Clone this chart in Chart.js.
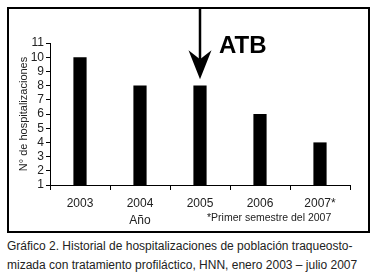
<!DOCTYPE html>
<html>
<head>
<meta charset="utf-8">
<script src="https://cdn.jsdelivr.net/npm/chart.js@4.4.0/dist/chart.umd.min.js"></script>
<style>
  body { margin: 0; background: #fff; font-family: "Liberation Sans", Arial, sans-serif; }
  #box { position: absolute; left: 7px; top: 7px; width: 359px; height: 222px; border: 2px solid #000; }
  #caption { position: absolute; left: 7px; top: 237px; width: 365px; font-size: 12px; line-height: 19px; color: #222; }
</style>
</head>
<body>
<div id="box"><canvas id="chart" width="359" height="222"></canvas></div>
<div id="caption">Gráfico 2. Historial de hospitalizaciones de población traqueosto-<br>mizada con tratamiento profiláctico, HNN, enero 2003 – julio 2007</div>
<script>
    // Data
    const years = ['2003', '2004', '2005', '2006', '2007*'];
    const hospitalizations = [10, 8, 8, 6, 4];
    const yTicks = [1, 2, 3, 4, 5, 6, 7, 8, 9, 10, 11];

    // Arrow over 2005 ("ATB" = start of antibiotic treatment)
    const arrowIndex = 2;
    const arrowTipValue = 8.45;

    const font = '"Liberation Sans", Arial, sans-serif';

    const extras = {
        id: 'extras',
        afterDraw(chart) {
            const ctx = chart.ctx;
            const x = chart.scales.x;
            const y = chart.scales.y;
            const ax = x.getPixelForValue(arrowIndex);
            const tip = y.getPixelForValue(arrowTipValue);

            ctx.save();
            // arrow line + head
            ctx.strokeStyle = '#000';
            ctx.lineWidth = 2.5;
            ctx.beginPath();
            ctx.moveTo(ax, 0);
            ctx.lineTo(ax, tip - 20);
            ctx.stroke();
            ctx.fillStyle = '#000';
            ctx.beginPath();
            ctx.moveTo(ax - 11.5, tip - 29);
            ctx.lineTo(ax, tip - 20);
            ctx.lineTo(ax + 11.5, tip - 29);
            ctx.lineTo(ax, tip);
            ctx.closePath();
            ctx.fill();

            // ATB label
            ctx.font = 'bold 24px ' + font;
            ctx.textBaseline = 'alphabetic';
            ctx.textAlign = 'left';
            ctx.fillText('ATB', ax + 19, 44);

            // x title and footnote
            ctx.fillStyle = '#222';
            ctx.font = '12px ' + font;
            ctx.textAlign = 'center';
            ctx.fillText('Año', 131, 215);
            ctx.font = '10.5px ' + font;
            ctx.textAlign = 'left';
            ctx.fillText('*Primer semestre del 2007', 198, 212);
            ctx.restore();
        }
    };

    new Chart(document.getElementById('chart'), {
        type: 'bar',
        data: {
            labels: years,
            datasets: [{
                data: hospitalizations,
                backgroundColor: '#000',
                barPercentage: 0.22,
                categoryPercentage: 1
            }]
        },
        options: {
            responsive: false,
            animation: false,
            layout: { padding: { top: 34, right: 18, left: 8, bottom: 0 } },
            plugins: { legend: { display: false }, tooltip: { enabled: false } },
            scales: {
                y: {
                    min: 1,
                    max: 11,
                    afterBuildTicks: (s) => { s.ticks = yTicks.map(v => ({ value: v })); },
                    afterFit: (s) => { s.width = 33; },
                    border: { color: '#000', width: 1 },
                    grid: { drawOnChartArea: false, drawTicks: true, tickLength: 4, color: '#000' },
                    ticks: { color: '#222', font: { family: font, size: 12 }, padding: 2, autoSkip: false },
                    title: {
                        display: true,
                        text: 'N° de hospitalizaciones',
                        color: '#222',
                        font: { family: font, size: 11 },
                        padding: 0
                    }
                },
                x: {
                    offset: true,
                    afterFit: (s) => { s.height = 46; },
                    border: { color: '#000', width: 1 },
                    grid: { offset: true, drawOnChartArea: false, drawTicks: true, tickLength: 5, color: '#000' },
                    ticks: { color: '#222', font: { family: font, size: 12 }, padding: 6 }
                }
            }
        },
        plugins: [extras]
    });
</script>
</body>
</html>
